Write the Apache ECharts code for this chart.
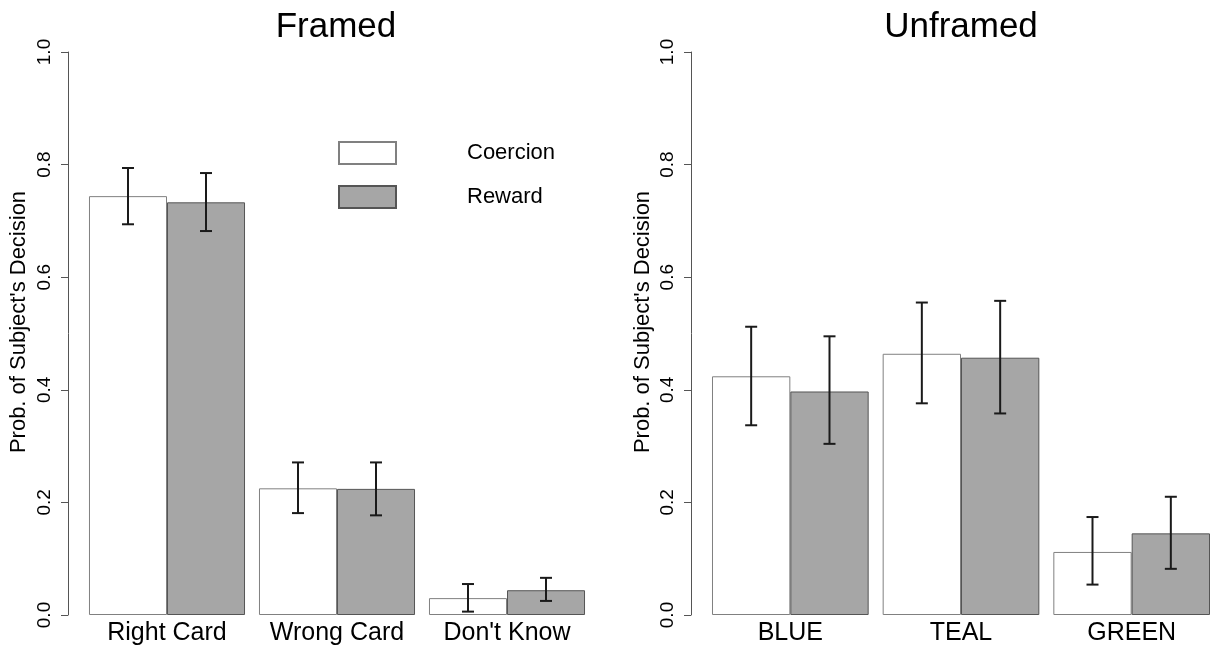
<!DOCTYPE html>
<html>
<head>
<meta charset="utf-8">
<script src="https://cdn.jsdelivr.net/npm/echarts@6/dist/echarts.min.js"></script>
<style>
html,body{margin:0;padding:0;background:#fff;}
#chart{width:1211px;height:650px;}
</style>
</head>
<body>
<div id="chart"></div>
<script>
// ---- data ----
const framedCats = ['Right Card', 'Wrong Card', "Don't Know"];
const framedCoercion   = [0.744, 0.225, 0.030];
const framedCoercionLo = [0.694, 0.181, 0.006];
const framedCoercionHi = [0.794, 0.271, 0.055];
const framedReward     = [0.733, 0.224, 0.044];
const framedRewardLo   = [0.682, 0.177, 0.025];
const framedRewardHi   = [0.785, 0.271, 0.066];

const unframedCats = ['BLUE', 'TEAL', 'GREEN'];
const unframedCoercion   = [0.424, 0.464, 0.112];
const unframedCoercionLo = [0.337, 0.376, 0.054];
const unframedCoercionHi = [0.512, 0.555, 0.174];
const unframedReward     = [0.397, 0.457, 0.145];
const unframedRewardLo   = [0.304, 0.358, 0.082];
const unframedRewardHi   = [0.495, 0.558, 0.210];

const seriesNames = ['Coercion', 'Reward'];
const panelTitles = ['Framed', 'Unframed'];
const yAxisTitle = "Prob. of Subject's Decision";

// ---- style ----
const FONT = 'Liberation Sans, Arial, sans-serif';
const BAR_FRAC = 0.459;
const whiteStyle = {color: '#ffffff', borderColor: '#808080', borderWidth: 1};
const grayStyle = {color: '#a6a6a6', borderColor: '#555555', borderWidth: 1};

function errData(lo, hi) { return lo.map((v, i) => [i, v, hi[i]]); }

function errSeries(idx, lo, hi, sign) {
  return {
    type: 'custom', xAxisIndex: idx, yAxisIndex: idx, z: 10,
    silent: true,
    data: errData(lo, hi),
    encode: {x: 0, y: [1, 2]},
    renderItem: function (params, api) {
      const i = api.value(0);
      const pLo = api.coord([i, api.value(1)]);
      const pHi = api.coord([i, api.value(2)]);
      const band = api.size([1, 0])[0];
      const x = pLo[0] + sign * band * BAR_FRAC / 2;
      const cap = 6;
      const st = {stroke: '#1a1a1a', lineWidth: 2};
      return {
        type: 'group',
        children: [
          {type: 'line', shape: {x1: x, y1: pLo[1], x2: x, y2: pHi[1]}, style: st},
          {type: 'line', shape: {x1: x - cap, y1: pLo[1], x2: x + cap, y2: pLo[1]}, style: st},
          {type: 'line', shape: {x1: x - cap, y1: pHi[1], x2: x + cap, y2: pHi[1]}, style: st}
        ]
      };
    }
  };
}

function xAxisCfg(idx, cats) {
  return {
    type: 'category', gridIndex: idx, data: cats,
    axisLine: {show: false}, axisTick: {show: false},
    axisLabel: {color: '#000', fontSize: 25, fontFamily: FONT, margin: 6, interval: 0, hideOverlap: false}
  };
}
function yAxisCfg(idx) {
  return {
    type: 'value', gridIndex: idx, min: 0, max: 1, interval: 0.2,
    offset: 14,
    splitLine: {show: false},
    axisLine: {show: true, lineStyle: {color: '#555', width: 1}},
    axisTick: {show: true, length: 7, lineStyle: {color: '#555'}},
    axisLabel: {
      rotate: 90, color: '#000', fontSize: 19, fontFamily: FONT, margin: 14,
      formatter: v => v.toFixed(1)
    }
  };
}

const titleStyle = {fontSize: 35, fontWeight: 'normal', color: '#000', fontFamily: FONT};
const axisTitleStyle = {text: yAxisTitle, fontSize: 22, fontFamily: FONT, fill: '#000', align: 'center', verticalAlign: 'middle'};

const option = {
  backgroundColor: '#fff',
  animation: false,
  title: [
    {text: panelTitles[0], left: 331, top: 5, textAlign: 'center', textStyle: titleStyle},
    {text: panelTitles[1], left: 956, top: 5, textAlign: 'center', textStyle: titleStyle}
  ],
  legend: {
    data: seriesNames, orient: 'vertical', left: 333, top: 136,
    itemWidth: 57, itemHeight: 22, itemGap: 20, icon: 'rect',
    textStyle: {fontSize: 22, color: '#000', fontFamily: FONT, padding: [0, 0, 0, 66]},
    selectedMode: false
  },
  grid: [
    {left: 82, width: 510, top: 52, bottom: 35, outerBoundsMode: 'none'},
    {left: 705, width: 512, top: 52, bottom: 35, outerBoundsMode: 'none'}
  ],
  xAxis: [xAxisCfg(0, framedCats), xAxisCfg(1, unframedCats)],
  yAxis: [yAxisCfg(0), yAxisCfg(1)],
  graphic: [
    {type: 'text', x: 19, y: 322, rotation: Math.PI / 2, style: axisTitleStyle},
    {type: 'text', x: 643, y: 322, rotation: Math.PI / 2, style: axisTitleStyle}
  ],
  series: [
    {name: seriesNames[0], type: 'bar', xAxisIndex: 0, yAxisIndex: 0, data: framedCoercion,
     barWidth: (BAR_FRAC * 100) + '%', barGap: '0%', itemStyle: whiteStyle},
    {name: seriesNames[1], type: 'bar', xAxisIndex: 0, yAxisIndex: 0, data: framedReward,
     barWidth: (BAR_FRAC * 100) + '%', barGap: '0%', itemStyle: grayStyle},
    {name: seriesNames[0], type: 'bar', xAxisIndex: 1, yAxisIndex: 1, data: unframedCoercion,
     barWidth: (BAR_FRAC * 100) + '%', barGap: '0%', itemStyle: whiteStyle},
    {name: seriesNames[1], type: 'bar', xAxisIndex: 1, yAxisIndex: 1, data: unframedReward,
     barWidth: (BAR_FRAC * 100) + '%', barGap: '0%', itemStyle: grayStyle},
    errSeries(0, framedCoercionLo, framedCoercionHi, -1),
    errSeries(0, framedRewardLo, framedRewardHi, 1),
    errSeries(1, unframedCoercionLo, unframedCoercionHi, -1),
    errSeries(1, unframedRewardLo, unframedRewardHi, 1)
  ]
};

const chart = echarts.init(document.getElementById('chart'), null, {renderer: 'canvas'});
chart.setOption(option);
</script>
</body>
</html>
